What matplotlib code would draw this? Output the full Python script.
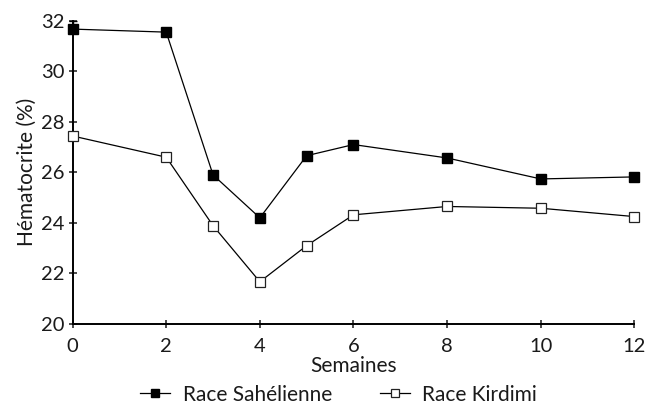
import matplotlib.pyplot as plt

plt.rcParams['font.family'] = ['Lato', 'DejaVu Sans']

semaines = [0, 2, 3, 4, 5, 6, 8, 10, 12]
sahelienne = [31.67, 31.55, 25.9, 24.2, 26.66, 27.1, 26.57, 25.74, 25.82]
kirdimi = [27.44, 26.6, 23.89, 21.67, 23.1, 24.32, 24.65, 24.58, 24.25]
err_sah0 = 0.33

fs = 15

fig = plt.figure(figsize=(6.54, 4.07), dpi=100)
ax = fig.add_axes([0.111, 0.204, 0.859, 0.745])

ax.plot(semaines, sahelienne, color="black", lw=0.9, marker="s", ms=7.2,
        mfc="black", mec="black", label="Race Sahélienne", clip_on=False, zorder=3)
ax.errorbar([semaines[0]], [sahelienne[0]], yerr=[[0], [err_sah0]], fmt="none",
            ecolor="black", elinewidth=1, capsize=3.2, capthick=1, clip_on=False)
ax.plot(semaines, kirdimi, color="black", lw=0.9, marker="s", ms=7,
        mfc="white", mec="#222222", mew=0.9, label="Race Kirdimi", clip_on=False, zorder=3)

ax.set_xlim(0, 12)
ax.set_ylim(20, 32)
ax.set_xticks(range(0, 13, 2))
ax.set_yticks(range(20, 33, 2))
for s in ["top", "right"]:
    ax.spines[s].set_visible(False)
for s in ["left", "bottom"]:
    ax.spines[s].set_linewidth(1.4)
ax.tick_params(direction="inout", length=6, width=1.1, labelsize=14.5, colors="#1a1a1a")
ax.tick_params(axis="x", pad=7)
ax.tick_params(axis="y", pad=3)
ax.set_xlabel("Semaines", fontsize=fs, labelpad=1, color="#1a1a1a")
ax.set_ylabel("Hématocrite (%)", fontsize=fs, labelpad=3, color="#1a1a1a")

leg = ax.legend(loc="center", bbox_to_anchor=(0.5176, 0.030), bbox_transform=fig.transFigure,
                ncol=2, frameon=False, fontsize=fs, handlelength=1.45, handletextpad=0.6,
                columnspacing=2.3, borderpad=0, markerscale=0.85)
for t in leg.get_texts():
    t.set_color("#1a1a1a")

fig.savefig("out.png", dpi=100)
